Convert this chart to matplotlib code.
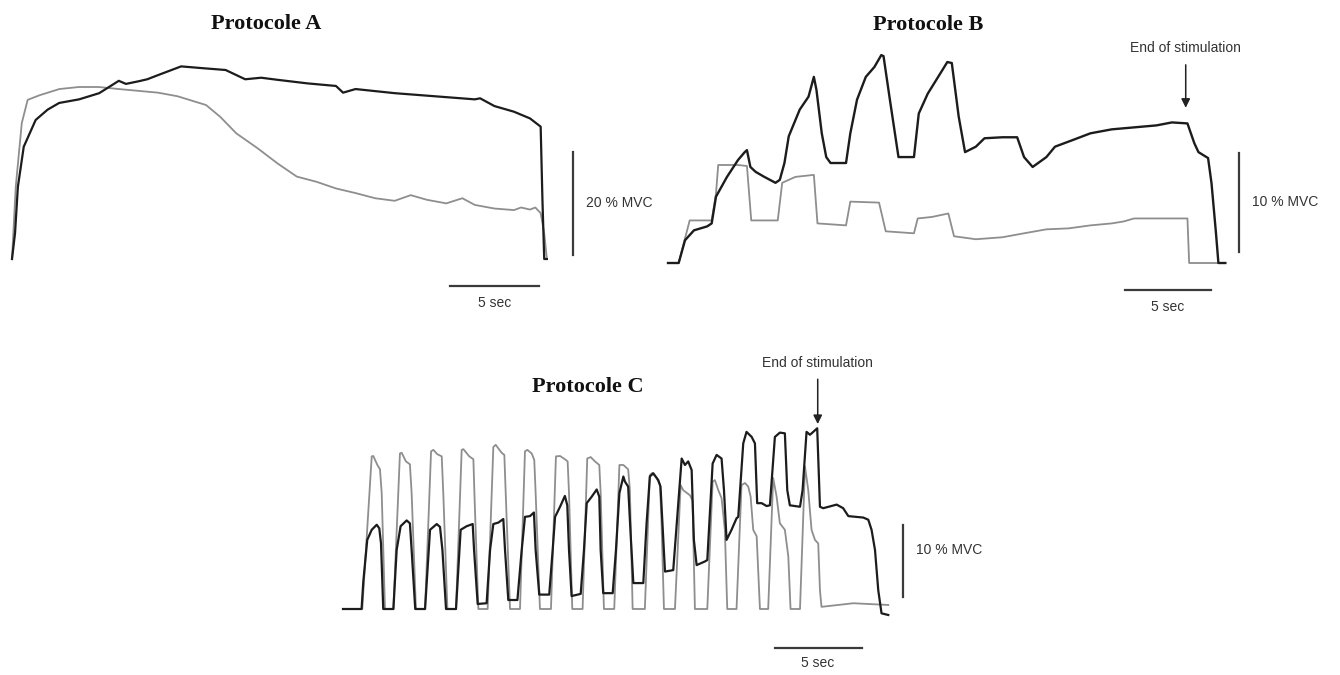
"""Force traces for protocols A, B and C (black = total force, grey = stimulation-evoked)."""

import matplotlib

matplotlib.use("Agg")
import matplotlib.pyplot as plt

W, H = 1340, 675

# ---- Protocole A (time in s, force in % MVC) ----
A_T_BLACK = [0, 0.17, 0.33, 0.66, 1.33, 2.0, 2.65, 3.77, 4.9, 6.0, 6.4, 7.1, 7.6, 8.2, 9.5,
             10.9, 12.0, 13.1, 14.0, 14.9, 16.6, 18.2, 18.6, 19.3, 21.5, 23.75, 26.0, 26.3,
             27.1, 28.2, 29.1, 29.7, 29.8, 29.9, 30.05]
A_V_BLACK = [0, 5, 14, 21.8, 27, 29, 30.3, 31, 32.2, 34.6, 34.0, 34.5, 34.9, 35.7, 37.4,
             37, 36.7, 34.9, 35.2, 34.8, 34.1, 33.6, 32.3, 33, 32.2, 31.6, 31.0, 31.2,
             29.7, 28.6, 27.3, 25.7, 11.5, 0, 0]
A_T_GREY = [0, 0.21, 0.55, 0.88, 1.55, 2.66, 3.77, 4.87, 6.0, 8.2, 9.3, 10.9, 11.7, 12.6,
            13.8, 14.9, 16.0, 17.1, 18.2, 19.3, 20.4, 21.5, 22.4, 23.3, 24.4, 25.3, 26.0,
            27.1, 28.2, 28.6, 29.1, 29.4, 29.7, 29.9, 30.05]
A_V_GREY = [0, 14, 26.4, 30.9, 31.8, 33, 33.4, 33.4, 33, 32.3, 31.6, 29.9, 27.6, 24.4,
            21.5, 18.6, 16, 15, 13.7, 12.8, 11.8, 11.3, 12.4, 11.5, 10.8, 11.8, 10.5,
            9.8, 9.5, 10, 9.6, 10, 8.9, 5, 0]

# ---- Protocole B ----
B_T_BLACK = [0, 0.62, 0.99, 1.51, 2.28, 2.54, 2.79, 3.43, 4.07, 4.46, 4.59, 4.79, 5.1, 5.6,
             6.25, 6.5, 6.77, 7.02, 7.66, 8.17, 8.48, 8.63, 8.94, 9.2, 9.45, 10.35, 10.6,
             10.99, 11.5, 12.0, 12.4, 12.53, 12.9, 13.4, 14.3, 14.58, 15.1, 15.85, 16.24,
             16.5, 16.9, 17.27, 17.9, 18.4, 19.44, 20.3, 20.7, 21.2, 22.0, 22.5, 23.5,
             24.56, 25.8, 27.1, 28.4, 29.3, 30.2, 30.6, 30.84, 31.4, 31.6, 31.86, 32.0, 32.4]
B_V_BLACK = [0, 0, 2.3, 3.3, 3.7, 4.0, 6.7, 8.7, 10.4, 11.2, 11.4, 9.7, 9.2, 8.7,
             8.1, 8.4, 10.1, 12.8, 15.5, 16.8, 18.8, 17.5, 13.1, 10.7, 10.1, 10.1, 13.1,
             16.5, 18.8, 19.8, 21.0, 20.9, 16.5, 10.7, 10.7, 15.1, 17.1, 19.2, 20.3,
             20.2, 14.8, 11.2, 11.75, 12.6, 12.7, 12.7, 10.7, 9.7, 10.7, 11.75, 12.4,
             13.1, 13.5, 13.7, 13.9, 14.2, 14.1, 12.1, 11.2, 10.6, 8.05, 3.0, 0, 0]
B_T_GREY = [0, 0.62, 1.26, 2.54, 2.79, 2.92, 4.07, 4.59, 4.84, 6.38, 6.64, 7.41, 8.48,
            8.69, 10.35, 10.6, 12.27, 12.66, 14.3, 14.52, 15.34, 16.3, 16.63, 17.9,
            19.44, 20.7, 22.0, 23.3, 24.56, 25.8, 26.5, 27.1, 30.2, 30.3, 32.4]
B_V_GREY = [0, 0, 4.3, 4.3, 7.0, 9.9, 9.9, 9.8, 4.3, 4.3, 8.1, 8.7, 8.9,
            4.0, 3.8, 6.2, 6.1, 3.2, 3.0, 4.5, 4.65, 5.0, 2.7, 2.4,
            2.6, 3.0, 3.4, 3.5, 3.8, 4.0, 4.2, 4.5, 4.5, 0, 0]

# ---- Protocole C ----
C_T_GREY = [0, 1.12, 1.67, 1.76, 2.0, 2.15, 2.25, 2.44,
            2.93, 3.31, 3.41, 3.66, 3.89, 3.99, 4.24,
            4.77, 5.12, 5.25, 5.48, 5.74, 5.83, 6.07,
            6.57, 6.9, 7.0, 7.34, 7.58, 7.64, 7.87,
            8.41, 8.74, 8.88, 9.22, 9.38, 9.46, 9.71,
            10.29, 10.58, 10.72, 10.97, 11.12, 11.2, 11.45,
            12.09, 12.38, 12.62, 12.9, 13.06, 13.14, 13.33,
            13.93, 14.2, 14.4, 14.65, 14.9, 14.98, 15.17,
            15.77, 16.07, 16.3, 16.58, 16.68, 16.84,
            17.55, 17.84, 17.98, 18.23, 18.43, 18.52, 18.66,
            19.3, 19.63, 19.78, 20.17, 20.32, 20.46,
            21.18, 21.49, 21.62, 21.82, 22.01, 22.2, 22.34,
            22.88, 23.17, 23.37, 23.56, 23.7, 23.85, 24.05, 24.24,
            24.72, 25.01, 25.21, 25.4, 25.69, 25.89, 26.02,
            26.57, 26.86, 27.05, 27.24, 27.44, 27.63, 27.73, 27.82, 29.67, 31.7]
C_V_GREY = [0, 0, 21.2, 21.25, 20.0, 19.4, 16.1, 0,
            0, 21.6, 21.7, 20.5, 20.1, 16.1, 0,
            0, 21.9, 22.1, 21.5, 21.2, 16.1, 0,
            0, 22.1, 22.2, 21.2, 20.8, 16.1, 0,
            0, 22.5, 22.8, 21.7, 21.4, 16.1, 0,
            0, 21.9, 22.1, 21.6, 20.7, 16.1, 0,
            0, 21.2, 21.25, 20.8, 20.5, 16.1, 0,
            0, 20.9, 21.1, 20.5, 20.0, 16.1, 0,
            0, 20.0, 20.0, 19.4, 16.5, 0,
            0, 18.6, 18.9, 18.2, 17.2, 11.9, 0,
            0, 17.2, 16.5, 15.8, 15.1, 0,
            0, 17.7, 17.9, 16.5, 15.4, 11.0, 0,
            0, 17.2, 17.5, 17.0, 15.6, 11.0, 10.1, 0,
            0, 18.2, 15.6, 11.9, 11.0, 7.3, 0,
            0, 19.8, 16.5, 11.0, 9.6, 9.1, 2.6, 0.3, 0.8, 0.56]
C_T_BLACK = [0, 1.08, 1.18, 1.41, 1.67, 1.96, 2.11, 2.21, 2.34,
             2.93, 3.12, 3.35, 3.7, 3.89, 3.99, 4.2,
             4.77, 5.06, 5.45, 5.64, 5.78, 5.99,
             6.57, 6.84, 7.19, 7.54, 7.62, 7.83, 8.35,
             8.55, 8.74, 9.03, 9.32, 9.42, 9.61, 10.14,
             10.39, 10.58, 10.87, 11.1, 11.2, 11.41, 11.99,
             12.19, 12.33, 12.62, 12.9, 13.04, 13.14, 13.29, 13.82,
             14.01, 14.17, 14.46, 14.75, 14.9, 14.98, 15.13, 15.68,
             15.87, 16.07, 16.3, 16.39, 16.58, 16.72, 16.88, 17.46,
             17.65, 17.84, 18.04, 18.33, 18.46, 18.72, 19.2,
             19.69, 19.88, 20.07, 20.27, 20.4, 20.56, 21.04, 21.18,
             21.49, 21.72, 22.01, 22.15, 22.3, 22.59, 22.88, 22.98,
             23.27, 23.46, 23.76, 23.95, 24.08, 24.34, 24.63, 24.82,
             25.11, 25.4, 25.69, 25.83, 25.98, 26.57, 26.72,
             26.95, 27.15, 27.34, 27.57, 27.73, 27.92, 28.7, 29.08, 29.38, 30.25,
             30.54, 30.73, 30.93, 31.12, 31.31, 31.7]
C_V_BLACK = [0, 0, 3.8, 9.6, 11.0, 11.7, 11.2, 9.1, 0,
             0, 8.2, 11.5, 12.3, 11.9, 8.2, 0,
             0, 11.0, 11.8, 11.4, 8.2, 0,
             0, 11.0, 11.5, 11.8, 8.2, 0.7, 0.8,
             8.2, 11.8, 12.0, 12.5, 8.2, 1.25, 1.25,
             8.2, 12.8, 12.9, 13.4, 8.2, 2.0, 2.0,
             8.2, 12.8, 14.2, 15.7, 14.4, 8.2, 1.8, 2.1,
             8.2, 14.7, 15.6, 16.6, 15.6, 8.2, 2.2, 2.2,
             8.2, 16.1, 18.4, 17.7, 17.0, 10.5, 3.6, 3.6,
             11.9, 18.4, 18.85, 17.9, 17.0, 5.2, 5.4,
             20.9, 20.0, 20.5, 19.3, 9.6, 6.1, 6.6, 6.8,
             20.2, 21.4, 20.9, 16.5, 9.6, 11.0, 12.6, 12.8,
             23.0, 24.6, 23.9, 23.0, 14.7, 14.7, 14.3, 14.4,
             23.9, 24.5, 24.4, 16.5, 14.4, 14.2, 16.5,
             24.6, 24.2, 24.6, 25.1, 14.2, 14.0, 14.5, 14.0, 12.9, 12.7,
             12.4, 11.0, 8.2, 2.6, -0.6, -0.83]

BLACK = "#1c1c1c"
GREY = "#8e8e8e"
BAR = "#3a3a3a"
SANS = "Liberation Sans"
SERIF = "Liberation Serif"


def _panel_axes(fig, origin_px, px_per_s, px_per_pct):
    """Full-figure transparent axes whose data origin lands on origin_px (x, y from top)."""
    ox, oy = origin_px
    ax = fig.add_axes([0, 0, 1, 1])
    ax.set_xlim(-ox / px_per_s, (W - ox) / px_per_s)
    ax.set_ylim((oy - H) / px_per_pct, oy / px_per_pct)
    ax.axis("off")
    ax.patch.set_alpha(0)
    return ax


def _scale_bars(ax, t_bar, v_bar_t, v_bar, pct, t_x, v_x):
    # horizontal 5 s bar
    ax.plot([t_bar, t_bar + 5], [v_bar_t, v_bar_t], color=BAR, lw=1.6, solid_capstyle="butt")
    ax.text(t_bar + 2.5, v_bar_t - t_x, "5 sec", ha="center", va="center",
            fontsize=10, family=SANS, color="#333333")
    # vertical % MVC bar
    ax.plot([t_bar + 5 + v_x[0], t_bar + 5 + v_x[0]], [v_bar, v_bar + pct],
            color=BAR, lw=1.6, solid_capstyle="butt")
    ax.text(t_bar + 5 + v_x[1], v_x[2], f"{pct} % MVC", ha="left", va="center",
            fontsize=10, family=SANS, color="#333333")


def _end_arrow(ax, t, v_tail, v_tip, v_text):
    ax.annotate("", xy=(t, v_tip), xytext=(t, v_tail),
                arrowprops=dict(arrowstyle="-|>", color="#222222", lw=1.1, mutation_scale=13))
    ax.text(t, v_text, "End of stimulation", ha="center", va="center",
            fontsize=10, family=SANS, color="#333333")


def main():
    fig = plt.figure(figsize=(W / 100, H / 100), dpi=100)
    fig.patch.set_facecolor("white")

    # Protocole A
    ax = _panel_axes(fig, (12, 259), 17.8, 5.15)
    ax.plot(A_T_GREY, A_V_GREY, color=GREY, lw=1.3)
    ax.plot(A_T_BLACK, A_V_BLACK, color=BLACK, lw=1.6)
    ax.plot([24.6, 29.6], [-5.2, -5.2], color=BAR, lw=1.6)
    ax.text(27.1, -8.5, "5 sec", ha="center", va="center", fontsize=10, family=SANS, color="#333333")
    ax.plot([31.5, 31.5], [0.8, 20.8], color=BAR, lw=1.6)
    ax.text(32.25, 10.9, "20 % MVC", ha="left", va="center", fontsize=10, family=SANS, color="#333333")

    # Protocole B
    ax = _panel_axes(fig, (668, 263), 17.2, 9.9)
    ax.plot(B_T_GREY, B_V_GREY, color=GREY, lw=1.3)
    ax.plot(B_T_BLACK, B_V_BLACK, color=BLACK, lw=1.7)
    ax.plot([26.57, 31.57], [-2.73, -2.73], color=BAR, lw=1.6)
    ax.text(29.07, -4.44, "5 sec", ha="center", va="center", fontsize=10, family=SANS, color="#333333")
    ax.plot([33.2, 33.2], [1.1, 11.1], color=BAR, lw=1.6)
    ax.text(33.95, 6.2, "10 % MVC", ha="left", va="center", fontsize=10, family=SANS, color="#333333")
    _end_arrow(ax, 30.1, 20.3, 15.4, 21.7)

    # Protocole C
    ax = _panel_axes(fig, (343, 609), 17.2, 7.2)
    ax.plot(C_T_GREY, C_V_GREY, color=GREY, lw=1.3)
    ax.plot(C_T_BLACK, C_V_BLACK, color=BLACK, lw=1.6)
    ax.plot([25.1, 30.15], [-5.4, -5.4], color=BAR, lw=1.6)
    ax.text(27.6, -7.5, "5 sec", ha="center", va="center", fontsize=10, family=SANS, color="#333333")
    ax.plot([32.56, 32.56], [1.67, 11.67], color=BAR, lw=1.6)
    ax.text(33.3, 8.2, "10 % MVC", ha="left", va="center", fontsize=10, family=SANS, color="#333333")
    _end_arrow(ax, 27.6, 32.3, 25.3, 34.2)

    for label, (x, y) in [("Protocole A", (266, 24)), ("Protocole B", (928, 25)),
                          ("Protocole C", (588, 387))]:
        fig.text(x / W, 1 - y / H, label, ha="center", va="center",
                 fontsize=16, fontweight="bold", family=SERIF, color="#111111")

    fig.savefig("out.png", dpi=100)
    plt.close(fig)


if __name__ == "__main__":
    main()
